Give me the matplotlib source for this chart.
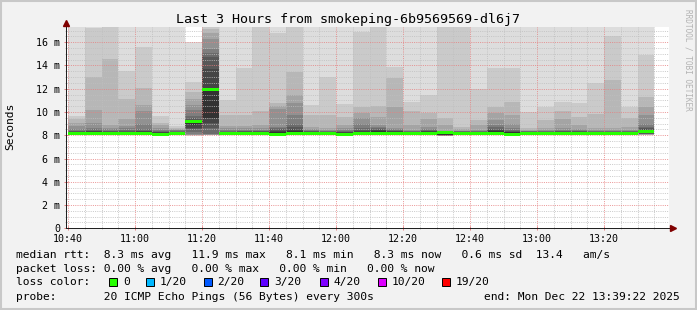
import matplotlib
matplotlib.use("Agg")
import matplotlib.pyplot as plt
from matplotlib.patches import Rectangle
from matplotlib.lines import Line2D
from matplotlib.ticker import MultipleLocator

# ---- data ----
title = "Last 3 Hours from smokeping-6b9569569-dl6j7"
t_start, t_end = "10:39:22", "13:39:22"

bar_start = ["10:40", "10:45", "10:50", "10:55", "11:00", "11:05", "11:10", "11:15", "11:20",
             "11:25", "11:30", "11:35", "11:40", "11:45", "11:50", "11:55", "12:00", "12:05",
             "12:10", "12:15", "12:20", "12:25", "12:30", "12:35", "12:40", "12:45", "12:50",
             "12:55", "13:00", "13:05", "13:10", "13:15", "13:20", "13:25", "13:30"]

# 20 sorted ping rtts (ms) per 5-minute step
pings = [
    [8.00, 8.02, 8.04, 8.05, 8.06, 8.07, 8.08, 8.09, 8.10, 8.11, 8.27, 8.30, 8.35, 8.40, 8.50, 8.80, 9.08, 9.37, 9.66, 19.0],
    [8.00, 8.03, 8.05, 8.07, 8.08, 8.10, 8.11, 8.12, 8.13, 8.14, 8.28, 8.33, 8.40, 8.50, 8.65, 9.08, 10.2, 13.0, 17.2, 19.0],
    [8.01, 8.03, 8.05, 8.07, 8.08, 8.10, 8.11, 8.12, 8.13, 8.14, 8.27, 8.30, 8.35, 8.40, 8.50, 8.65, 8.85, 14.56, 18.5, 19.5],
    [8.00, 8.03, 8.05, 8.07, 8.08, 8.10, 8.11, 8.12, 8.13, 8.14, 8.27, 8.32, 8.35, 8.45, 8.60, 8.80, 9.37, 11.1, 13.55, 19.0],
    [8.02, 8.04, 8.06, 8.08, 8.09, 8.10, 8.11, 8.12, 8.13, 8.14, 8.28, 8.33, 8.40, 8.50, 8.94, 10.1, 10.6, 12.1, 15.57, 19.0],
    [7.96, 7.98, 8.00, 8.02, 8.03, 8.04, 8.05, 8.06, 8.07, 8.08, 8.20, 8.24, 8.28, 8.34, 8.45, 8.65, 8.85, 9.08, 9.66, 19.0],
    [8.00, 8.02, 8.04, 8.05, 8.06, 8.08, 8.09, 8.10, 8.11, 8.12, 8.25, 8.28, 8.32, 8.38, 8.42, 8.45, 8.50, 8.60, 8.80, 19.0],
    [7.97, 7.98, 7.99, 8.00, 8.02, 8.10, 8.30, 8.50, 8.65, 8.90, 9.22, 9.30, 9.45, 9.66, 10.2, 10.6, 11.1, 11.7, 12.54, 16.0],
    [8.00, 8.02, 8.03, 8.04, 8.05, 8.07, 8.10, 8.65, 9.08, 9.50, 12.05, 13.7, 14.7, 15.1, 15.4, 16.3, 16.8, 17.15, 18.0, 18.5],
    [8.00, 8.02, 8.04, 8.05, 8.06, 8.08, 8.09, 8.10, 8.11, 8.12, 8.25, 8.28, 8.32, 8.38, 8.45, 8.60, 8.80, 9.70, 11.0, 19.0],
    [8.01, 8.03, 8.05, 8.07, 8.08, 8.10, 8.11, 8.12, 8.13, 8.14, 8.27, 8.30, 8.33, 8.38, 8.45, 8.60, 8.80, 9.74, 13.81, 19.0],
    [8.00, 8.03, 8.05, 8.06, 8.08, 8.09, 8.10, 8.11, 8.12, 8.13, 8.27, 8.30, 8.33, 8.38, 8.45, 8.60, 8.90, 10.1, 18.5, 19.0],
    [7.98, 8.00, 8.02, 8.04, 8.05, 8.06, 8.07, 8.08, 8.09, 8.10, 8.30, 8.40, 8.50, 8.60, 8.74, 10.3, 10.5, 10.75, 16.76, 19.0],
    [8.00, 8.03, 8.05, 8.07, 8.09, 8.10, 8.12, 8.13, 8.14, 8.16, 8.37, 8.50, 8.74, 9.00, 9.74, 10.75, 11.5, 13.47, 18.5, 19.0],
    [8.00, 8.03, 8.05, 8.07, 8.08, 8.10, 8.11, 8.12, 8.13, 8.14, 8.27, 8.30, 8.33, 8.38, 8.42, 8.50, 8.74, 9.74, 10.6, 19.0],
    [8.00, 8.03, 8.05, 8.07, 8.08, 8.10, 8.11, 8.12, 8.13, 8.14, 8.26, 8.29, 8.32, 8.36, 8.40, 8.45, 8.60, 9.74, 13.0, 19.0],
    [7.96, 7.98, 8.00, 8.02, 8.03, 8.04, 8.05, 8.06, 8.07, 8.08, 8.20, 8.25, 8.30, 8.35, 8.45, 8.60, 8.88, 9.60, 10.7, 19.0],
    [8.00, 8.03, 8.05, 8.07, 8.08, 8.10, 8.11, 8.12, 8.13, 8.14, 8.28, 8.35, 8.45, 8.60, 9.00, 9.50, 9.90, 10.46, 16.9, 19.0],
    [8.02, 8.05, 8.07, 8.09, 8.11, 8.12, 8.13, 8.15, 8.16, 8.17, 8.33, 8.42, 8.50, 8.60, 8.70, 8.88, 9.60, 10.55, 18.5, 19.0],
    [8.02, 8.05, 8.07, 8.09, 8.11, 8.12, 8.13, 8.15, 8.16, 8.17, 8.30, 8.33, 8.38, 8.42, 8.50, 8.60, 10.46, 12.9, 13.9, 19.0],
    [8.00, 8.03, 8.05, 8.07, 8.08, 8.10, 8.11, 8.12, 8.13, 8.14, 8.26, 8.29, 8.32, 8.36, 8.40, 8.45, 8.90, 10.1, 10.9, 19.0],
    [8.02, 8.05, 8.07, 8.09, 8.11, 8.12, 8.13, 8.15, 8.16, 8.17, 8.28, 8.33, 8.38, 8.45, 8.55, 8.70, 9.40, 9.90, 11.46, 19.0],
    [7.94, 7.95, 7.96, 7.96, 7.97, 7.97, 7.98, 7.98, 7.98, 8.00, 8.30, 8.32, 8.34, 8.36, 8.38, 8.40, 8.90, 9.50, 18.5, 19.0],
    [8.00, 8.03, 8.05, 8.07, 8.08, 8.10, 8.11, 8.12, 8.13, 8.14, 8.24, 8.27, 8.30, 8.33, 8.36, 8.40, 8.50, 8.74, 18.5, 19.0],
    [8.01, 8.03, 8.05, 8.07, 8.09, 8.10, 8.11, 8.12, 8.14, 8.15, 8.25, 8.28, 8.31, 8.34, 8.38, 8.45, 8.88, 9.30, 12.0, 19.0],
    [8.02, 8.05, 8.07, 8.09, 8.11, 8.12, 8.13, 8.15, 8.16, 8.17, 8.35, 8.45, 8.55, 8.70, 8.88, 9.30, 9.88, 10.4, 13.75, 19.0],
    [7.98, 8.00, 8.02, 8.04, 8.05, 8.06, 8.07, 8.08, 8.09, 8.10, 8.25, 8.30, 8.38, 8.45, 8.60, 9.00, 9.70, 10.9, 13.75, 19.0],
    [8.01, 8.03, 8.05, 8.07, 8.09, 8.10, 8.11, 8.12, 8.14, 8.15, 8.24, 8.27, 8.30, 8.33, 8.36, 8.40, 8.45, 8.60, 10.03, 19.0],
    [8.01, 8.03, 8.05, 8.07, 8.09, 8.10, 8.11, 8.12, 8.14, 8.15, 8.25, 8.28, 8.31, 8.34, 8.38, 8.42, 8.60, 9.30, 10.46, 19.0],
    [8.01, 8.03, 8.05, 8.07, 8.09, 8.10, 8.11, 8.12, 8.14, 8.15, 8.26, 8.30, 8.33, 8.38, 8.45, 8.60, 9.40, 10.1, 10.9, 19.0],
    [8.01, 8.03, 8.05, 8.07, 8.09, 8.10, 8.11, 8.12, 8.14, 8.15, 8.26, 8.30, 8.33, 8.37, 8.42, 8.50, 8.88, 9.60, 10.8, 19.0],
    [8.01, 8.03, 8.05, 8.07, 8.09, 8.10, 8.11, 8.12, 8.14, 8.15, 8.25, 8.28, 8.31, 8.34, 8.38, 8.42, 8.60, 9.80, 12.5, 19.0],
    [8.01, 8.03, 8.05, 8.07, 8.09, 8.10, 8.11, 8.12, 8.14, 8.15, 8.26, 8.29, 8.32, 8.36, 8.40, 8.45, 8.60, 12.75, 16.5, 19.0],
    [8.00, 8.03, 8.05, 8.07, 8.08, 8.10, 8.11, 8.12, 8.13, 8.14, 8.25, 8.28, 8.31, 8.34, 8.38, 8.45, 8.74, 9.45, 10.46, 19.0],
    [8.00, 8.02, 8.04, 8.06, 8.08, 8.10, 8.12, 8.14, 8.17, 8.20, 8.42, 8.50, 8.60, 8.75, 9.00, 9.74, 10.46, 11.32, 14.9, 19.0],
]

medians = [8.12, 8.15, 8.14, 8.14, 8.15, 8.08, 8.12, 9.17, 11.9, 8.12, 8.14, 8.13, 8.10, 8.16,
           8.14, 8.14, 8.08, 8.14, 8.17, 8.17, 8.14, 8.17, 8.20, 8.14, 8.15, 8.17, 8.10, 8.15,
           8.15, 8.15, 8.15, 8.15, 8.15, 8.14, 8.30]

x_ticks = ["10:40", "11:00", "11:20", "11:40", "12:00", "12:20", "12:40", "13:00", "13:20"]
y_ticks = [0, 2, 4, 6, 8, 10, 12, 14, 16]
y_labels = ["0", "2 m", "4 m", "6 m", "8 m", "10 m", "12 m", "14 m", "16 m"]
y_max = 17.31

rtt_line = "median rtt:  8.3 ms avg   11.9 ms max   8.1 ms min   8.3 ms now   0.6 ms sd  13.4   am/s"
loss_line = "packet loss: 0.00 % avg   0.00 % max   0.00 % min   0.00 % now"
probe_line = "probe:       20 ICMP Echo Pings (56 Bytes) every 300s"
end_line = "end: Mon Dec 22 13:39:22 2025"
loss_labels = ["0", "1/20", "2/20", "3/20", "4/20", "10/20", "19/20"]
loss_colors = ["#26ff00", "#00b8ff", "#0059ff", "#5e00ff", "#7e00ff", "#dd00ff", "#ff0000"]


def minutes(s):
    p = [int(v) for v in s.split(":")]
    return (p[0] - 10) * 60 + p[1] + (p[2] / 60 if len(p) > 2 else 0)


# ---- layout, in pixels of the 697x310 picture ----
W, H = 697, 310
MONO = "DejaVu Sans Mono"
plt.rcParams["font.family"] = MONO


def fx(x):
    return x / W


def fy(y):
    return 1 - y / H


fig = plt.figure(figsize=(W / 100, H / 100), dpi=100, facecolor="#f2f2f2")
ax = fig.add_axes([fx(66), fy(228.3), 603 / W, (228.3 - 27) / H])
ax.set_facecolor("#ffffff")

starts = [minutes(s) for s in bar_start]
half = len(pings[0]) // 2
for i in range(half):
    g = int(190 / half * (half - 1 - i)) + 50
    lo = [p[i] for p in pings]
    hi = [p[-1 - i] for p in pings]
    ax.bar(starts, [h - l for h, l in zip(hi, lo)], bottom=lo, width=5, align="edge",
           color="#%02x%02x%02x" % (g, g, g), linewidth=0, zorder=1)

sw = 0.13
ax.bar(starts, 2 * sw, bottom=[m - sw for m in medians], width=5, align="edge",
       color=loss_colors[0], linewidth=0, zorder=3)

ax.set_xlim(minutes(t_start), minutes(t_end))
ax.set_ylim(0, y_max)
ax.set_xticks([minutes(t) for t in x_ticks], x_ticks)
ax.set_yticks(y_ticks, y_labels)
ax.xaxis.set_minor_locator(MultipleLocator(5))
ax.yaxis.set_minor_locator(MultipleLocator(0.5))
ax.set_axisbelow(False)
ax.grid(which="minor", color="#bfbfbf", alpha=0.8, linewidth=0.72, linestyle=(0, (1, 1.2)))
ax.grid(which="major", color="#e68080", alpha=0.8, linewidth=0.72, linestyle=(0, (1, 1.2)))
ax.tick_params(which="major", length=3, width=0.72, direction="inout", color="#e68080",
               labelsize=7.2, pad=2.5)
ax.tick_params(which="minor", length=2, width=0.72, direction="inout", color="#bfbfbf")
for s in ("top", "right"):
    ax.spines[s].set_visible(False)
for s in ("left", "bottom"):
    ax.spines[s].set_color("#212121")
    ax.spines[s].set_linewidth(0.72)
    ax.spines[s].set_zorder(4)
ax.plot([0], [1.018], marker="^", markersize=4.5, color="#800000", transform=ax.transAxes,
        clip_on=False, zorder=5)
ax.plot([1.006], [0], marker=">", markersize=4.5, color="#800000", transform=ax.transAxes,
        clip_on=False, zorder=5)

fig.text(fx(348.5), fy(19.5), title, ha="center", va="center", fontsize=9.6)
fig.text(fx(10.5), fy(126), "Seconds", rotation=90, ha="center", va="center", fontsize=8.1)
fig.text(fx(688), fy(60), "RRDTOOL / TOBI OETIKER", rotation=270, ha="center", va="center",
         fontsize=5.6, color="#b3b3b3")

fig.text(fx(16), fy(255), rtt_line, ha="left", va="center", fontsize=8.1)
fig.text(fx(16), fy(268.5), loss_line, ha="left", va="center", fontsize=8.1)
fig.text(fx(16), fy(282), "loss color:", ha="left", va="center", fontsize=8.1)
box_x = [109, 146, 203.5, 260, 320, 378, 442]
for bx, lab, col in zip(box_x, loss_labels, loss_colors):
    fig.patches.append(Rectangle((fx(bx), fy(286)), 8 / W, 8 / H, transform=fig.transFigure,
                                 facecolor=col, edgecolor="#000000", linewidth=0.7))
    fig.text(fx(bx + 14), fy(282), lab, ha="left", va="center", fontsize=8.1)
fig.text(fx(16), fy(296.5), probe_line, ha="left", va="center", fontsize=8.1)
fig.text(fx(680), fy(296.5), end_line, ha="right", va="center", fontsize=8.1)

# frame of the rrdtool canvas
for (x0, y0, x1, y1) in [(0, 1, W, 1), (1, 0, 1, H), (0, H - 1, W, H - 1), (W - 1, 0, W - 1, H)]:
    fig.add_artist(Line2D([fx(x0), fx(x1)], [fy(y0), fy(y1)], transform=fig.transFigure,
                          color="#c8c8c8", linewidth=1.5))

fig.savefig("out.png", dpi=100, facecolor=fig.get_facecolor())
